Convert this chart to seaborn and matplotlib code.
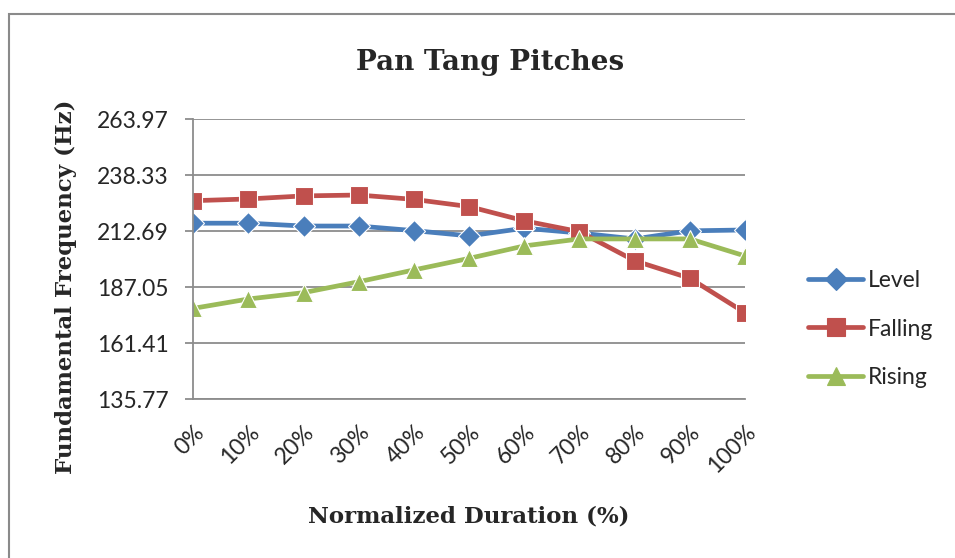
import matplotlib
matplotlib.use("Agg")
import matplotlib.pyplot as plt
from matplotlib.patches import Rectangle
import seaborn as sns
import pandas as pd

# Normalized time points and mean F0 contours (Hz)
duration_labels = ["0%", "10%", "20%", "30%", "40%", "50%", "60%", "70%", "80%", "90%", "100%"]
level = [216.4, 216.4, 215.1, 215.1, 213.0, 210.6, 214.1, 211.9, 209.2, 212.9, 213.3]
falling = [226.7, 227.5, 228.9, 229.3, 227.3, 224.0, 217.5, 212.5, 199.2, 191.2, 175.4]
rising = [177.4, 181.7, 184.6, 189.6, 195.0, 200.3, 206.0, 209.2, 209.2, 209.2, 201.4]
series_names = ["Level", "Falling", "Rising"]
y_ticks = [135.77, 161.41, 187.05, 212.69, 238.33, 263.97]

rows = []
for name, vals in zip(series_names, [level, falling, rising]):
    for i, v in enumerate(vals):
        rows.append({"pos": i, "freq": v, "series": name})
df = pd.DataFrame(rows)

sns.set_theme(style="white")
plt.rcParams["font.family"] = ["Lato", "DejaVu Sans"]

fig = plt.figure(figsize=(9.55, 5.58), dpi=100)
ax = fig.add_axes([193.3 / 955, 1 - 399.3 / 558, (745 - 193.3) / 955, (399.3 - 119.3) / 558])

palette = {"Level": "#4A7EBB", "Falling": "#C0504D", "Rising": "#9BBB59"}
markers = {"Level": "D", "Falling": "s", "Rising": "^"}
sns.lineplot(data=df, x="pos", y="freq", hue="series", style="series",
             hue_order=series_names, style_order=series_names,
             palette=palette, markers=markers, dashes=False,
             linewidth=3.4, markersize=13, markeredgewidth=0.8,
             ax=ax, legend=False)
# Excel-style diamonds are a bit smaller than the squares
for line in ax.get_lines():
    if line.get_marker() == "D":
        line.set_markersize(11)

ax.set_xlim(0, 10)
ax.set_ylim(y_ticks[0], y_ticks[-1])
ax.set_yticks(y_ticks)
ax.set_yticklabels([f"{t:.2f}" for t in y_ticks])
ax.set_xticks(range(len(duration_labels)))
ax.set_xticklabels(duration_labels, rotation=45, ha="right", rotation_mode="anchor")
ax.yaxis.grid(True, color="#8c8c8c", linewidth=1.3)
ax.xaxis.grid(False)
ax.set_axisbelow(True)

for side in ["top", "right"]:
    ax.spines[side].set_visible(False)
for side in ["left", "bottom"]:
    ax.spines[side].set_color("#8c8c8c")
    ax.spines[side].set_linewidth(1.3)

ax.tick_params(axis="y", which="major", left=True, length=5.5, width=1.3, color="#8c8c8c",
               labelsize=16.5, pad=12)
ax.tick_params(axis="x", which="major", bottom=False, labelsize=16.5, pad=10)

serif = ["DejaVu Serif"]
ax.set_xlabel("Normalized Duration (%)", fontsize=16.5, fontweight="bold", family=serif, labelpad=20)
ax.set_ylabel("Fundamental Frequency (Hz)", fontsize=16.5, fontweight="bold", family=serif,
              va="center", ha="center")
ax.yaxis.set_label_coords((66 - 193.3) / 551.7, (399.3 - 287) / 280)
fig.text(490 / 955, 1 - 62 / 558, "Pan Tang Pitches", ha="center", va="center",
         fontsize=20, fontweight="bold", family=serif)

handles = [plt.Line2D([], [], color=palette[n], marker=markers[n], linewidth=3.4,
                      markersize=(11 if markers[n] == "D" else 13), markeredgewidth=0.8)
           for n in series_names]
fig.legend(handles, series_names, loc="center left", bbox_to_anchor=(797 / 955, 1 - 329 / 558),
           frameon=False, fontsize=16.5, handlelength=2.4, handletextpad=0.2,
           labelspacing=1.2, borderpad=0)

# Chart-area border
fig.patches.append(Rectangle((9 / 955, -0.2), 1.2, 1.2 - 14 / 558,
                             transform=fig.transFigure, fill=False,
                             edgecolor="#8a8a8a", linewidth=1.5))

fig.savefig("out.png", dpi=100)
